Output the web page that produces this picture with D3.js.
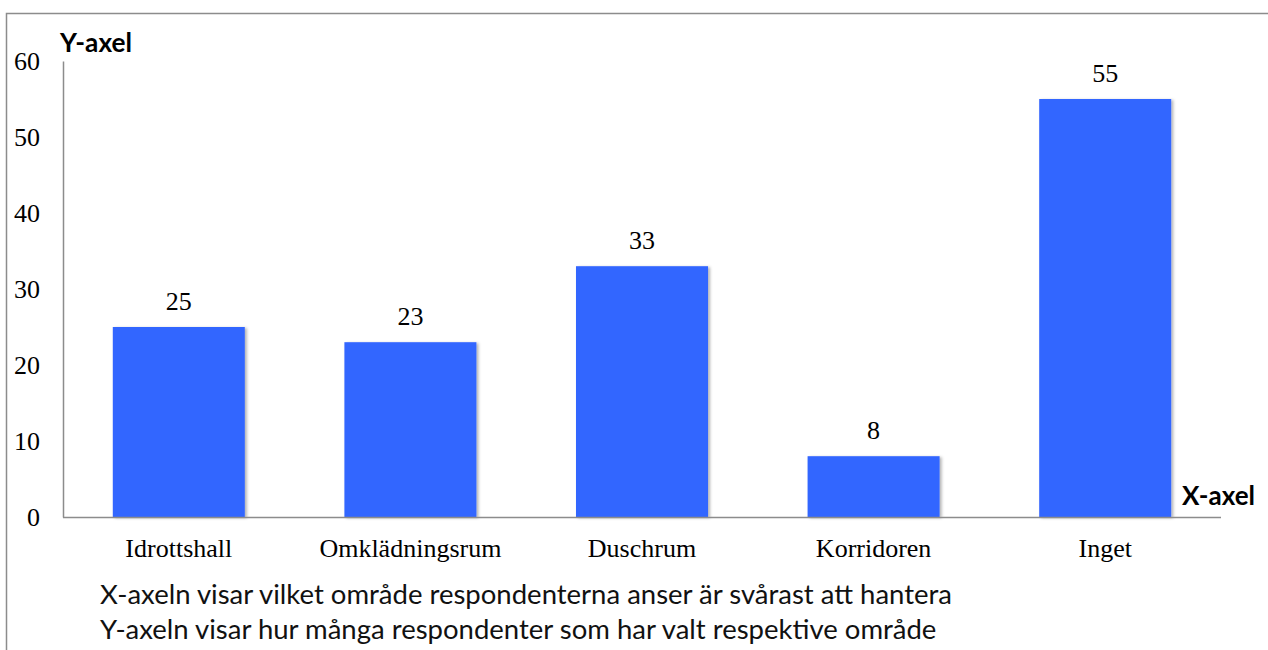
<!DOCTYPE html>
<html><head><meta charset="utf-8">
<script src="https://cdn.jsdelivr.net/npm/d3@7"></script>
<style>body{margin:0;background:#fff}svg{display:block}</style>
</head><body>
<svg id="c" width="1268" height="650"></svg>
<script>
const categories = ["Idrottshall","Omklädningsrum","Duschrum","Korridoren","Inget"];
const values = [25,23,33,8,55];
const yTicks = [0,10,20,30,40,50,60];
const yTitle = "Y-axel";
const xTitle = "X-axel";
const notes = ["X-axeln visar vilket område respondenterna anser är svårast att hantera",
               "Y-axeln visar hur många respondenter som har valt respektive område"];

(function(){
const svg = d3.select("#c");
const mL = 63, mR = 1221, mT = 61, mB = 517;
const serif = "'Liberation Serif','Times New Roman',serif";
const sans = "Lato,'Open Sans',sans-serif";

function fit(sel, target){
  const base = 20;
  sel.attr("font-size", base);
  const w = sel.node().getComputedTextLength();
  const s = base*target/w;
  sel.attr("font-size", s);
  return s;
}

svg.append("path").attr("d","M6.5,650 V13.5 H1268").attr("fill","none").attr("stroke","#8c8c8c").attr("stroke-width",1.5);

const x = d3.scaleBand().domain(categories).range([mL,mR]).paddingInner(0.43).paddingOuter(0.215);
const y = d3.scaleLinear().domain([0,60]).range([mB,mT]);

const defs = svg.append("defs");
const f = defs.append("filter").attr("id","sh").attr("x","-10%").attr("y","-10%").attr("width","130%").attr("height","130%");
f.append("feDropShadow").attr("dx",2).attr("dy",1).attr("stdDeviation",1.5).attr("flood-color","#000").attr("flood-opacity",0.3);

svg.selectAll("rect.bar").data(values).join("rect").attr("class","bar")
  .attr("x",(d,i)=>x(categories[i])).attr("width",x.bandwidth())
  .attr("y",d=>y(d)).attr("height",d=>mB-y(d))
  .attr("fill","#3366ff").attr("filter","url(#sh)");

const ya = svg.append("g").attr("transform",`translate(${mL},0)`)
  .call(d3.axisLeft(y).tickValues(yTicks).tickSize(0).tickPadding(23));
ya.select(".domain").attr("stroke","#8c8c8c").attr("stroke-width",1.5);
ya.selectAll("text").attr("font-family",serif).attr("font-size",26).attr("fill","#000");

const xa = svg.append("g").attr("transform",`translate(0,${mB})`)
  .call(d3.axisBottom(x).tickSize(0).tickPadding(21.5));
xa.select(".domain").attr("stroke","#8c8c8c").attr("stroke-width",1.5).attr("d",`M${mL},0.5H${mR}`);
xa.selectAll("text").attr("font-family",serif).attr("font-size",26).attr("fill","#000");

svg.selectAll("text.val").data(values).join("text").attr("class","val")
  .attr("x",(d,i)=>x(categories[i])+x.bandwidth()/2).attr("y",d=>y(d)-17)
  .attr("text-anchor","middle").style("font-family",serif).attr("font-size",26).text(d=>d);

const yt = svg.append("text").attr("x",60).attr("y",52).attr("font-family",sans).attr("font-weight","bold").text(yTitle);
fit(yt, 72);
const xt = svg.append("text").attr("x",1182).attr("y",505).attr("font-family",sans).attr("font-weight","bold").text(xTitle);
fit(xt, 73);

const nt = svg.selectAll("text.note").data(notes).join("text").attr("class","note")
  .attr("x",100).attr("y",(d,i)=>604+i*35).attr("font-family",sans).attr("fill","#111").text(d=>d);
const s = fit(d3.select(nt.nodes()[0]), 852);
nt.attr("font-size", s);
})();
</script>
</body></html>
